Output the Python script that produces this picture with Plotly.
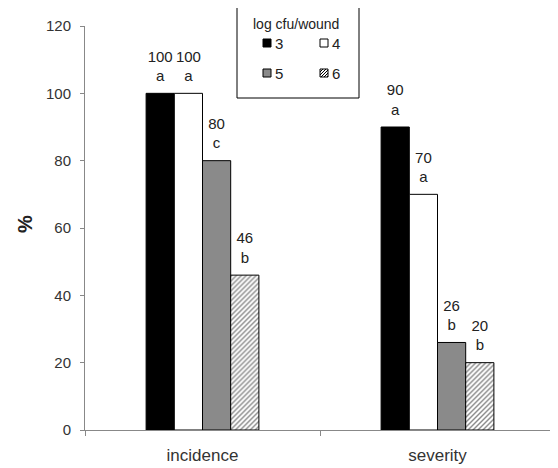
import plotly.graph_objects as go

categories = ["incidence", "severity"]
series_names = ["3", "4", "5", "6"]
values_3 = [100, 90]
values_4 = [100, 70]
values_5 = [80, 26]
values_6 = [46, 20]
letters_3 = ["a", "a"]
letters_4 = ["a", "a"]
letters_5 = ["c", "b"]
letters_6 = ["b", "b"]
y_ticks = [0, 20, 40, 60, 80, 100, 120]

# the page body adds an 8px margin, so the figure is drawn 8px smaller/shifted
OFF = 8
W, H = 558 - OFF, 468 - OFF
ML, MR, MT, MB = 85 - OFF, 3, 26 - OFF, 38
PW, PH = W - ML - MR, H - MT - MB

def px(x):
    # reference pixel x -> paper
    return (x - OFF - ML) / PW

def py(y):
    # reference pixel y -> paper
    return (H - MB - (y - OFF)) / PH

FONT = "Liberation Sans, Arial, sans-serif"

fig = go.Figure()
styles = [
    dict(color="#000000"),
    dict(color="#ffffff"),
    dict(color="#8a8a8a"),
    dict(color="#ffffff", pattern=dict(shape="/", fgcolor="#111111", bgcolor="#ffffff", size=3.5, solidity=0.4)),
]
all_vals = [values_3, values_4, values_5, values_6]
all_letters = [letters_3, letters_4, letters_5, letters_6]
for i, (name, vals, st) in enumerate(zip(series_names, all_vals, styles)):
    fig.add_trace(go.Bar(
        x=categories, y=vals, name=name, offsetgroup=str(i),
        marker=dict(line=dict(color="#000000", width=1), **st),
        showlegend=False, hoverinfo="skip",
    ))
for i, (name, vals, lets) in enumerate(zip(series_names, all_vals, all_letters)):
    fig.add_trace(go.Scatter(
        x=categories, y=vals, name=name, offsetgroup=str(i),
        mode="markers+text",
        marker=dict(size=12, opacity=0),
        text=[f"{v}<br>{l}" for v, l in zip(vals, lets)],
        textposition="top center", cliponaxis=False,
        textfont=dict(size=15, color="#222222", family=FONT),
        showlegend=False, hoverinfo="skip",
    ))

shapes = []
shapes.append(dict(type="rect", xref="paper", yref="paper",
                   x0=px(237), x1=px(359), y0=py(98), y1=py(4),
                   line=dict(color="#000000", width=1), fillcolor="#ffffff", layer="above"))
sw = [("3", 263, 39, "#000000"), ("4", 320, 39, "#ffffff"), ("5", 263, 69, "#8a8a8a"), ("6", 320, 69, "#ffffff")]
annotations = []
for lab, x0, y0, col in sw:
    shapes.append(dict(type="rect", xref="paper", yref="paper",
                       x0=px(x0), x1=px(x0 + 8), y0=py(y0 + 8), y1=py(y0),
                       line=dict(color="#000000", width=1), fillcolor=col, layer="above"))
    annotations.append(dict(text=lab, xref="paper", yref="paper", x=px(x0 + 10), y=py(y0 + 4),
                            xanchor="left", yanchor="middle", showarrow=False,
                            font=dict(size=15, color="#222222", family=FONT)))
# hatch inside legend swatch 6 ("/" lines)
hx, hy = 320, 69
for a in (3, 6, 9, 12, 15):
    if a <= 8:
        q0 = (hx, hy + a)
        q1 = (hx + a, hy)
    else:
        q0 = (hx + a - 8, hy + 8)
        q1 = (hx + 8, hy + a - 8)
    shapes.append(dict(type="line", xref="paper", yref="paper",
                       x0=px(q0[0]), y0=py(q0[1]), x1=px(q1[0]), y1=py(q1[1]),
                       line=dict(color="#000000", width=1), layer="above"))

annotations.append(dict(text="log cfu/wound", xref="paper", yref="paper", x=px(296), y=py(24),
                        xanchor="center", yanchor="middle", showarrow=False,
                        font=dict(size=14, color="#222222", family=FONT)))
annotations.append(dict(text="<b>%</b>", xref="paper", yref="paper", x=px(25), y=py(224),
                        xanchor="center", yanchor="middle", showarrow=False, textangle=-90,
                        font=dict(size=20, color="#222222", family=FONT)))

fig.update_layout(
    width=W, height=H,
    margin=dict(l=ML, r=MR, t=MT, b=MB, autoexpand=False),
    paper_bgcolor="#ffffff", plot_bgcolor="#ffffff",
    barmode="group", bargap=0.52, bargroupgap=0,
    scattermode="group", scattergap=0.52,
    font=dict(family=FONT, color="#222222"),
    shapes=shapes, annotations=annotations,
    showlegend=False,
)
fig.update_xaxes(showline=True, linecolor="#888888", linewidth=1, showgrid=False,
                 ticks="outside", tickson="boundaries", ticklen=5, tickcolor="#888888",
                 tickfont=dict(size=17, color="#333333"), zeroline=False, ticklabelstandoff=10)
fig.update_yaxes(range=[0, 120], tickvals=y_ticks, showline=True, linecolor="#888888", linewidth=1,
                 showgrid=False, ticks="outside", ticklen=4, tickcolor="#888888",
                 tickfont=dict(size=15, color="#333333"), zeroline=False, ticklabelstandoff=6)

fig.write_html("out.html")
